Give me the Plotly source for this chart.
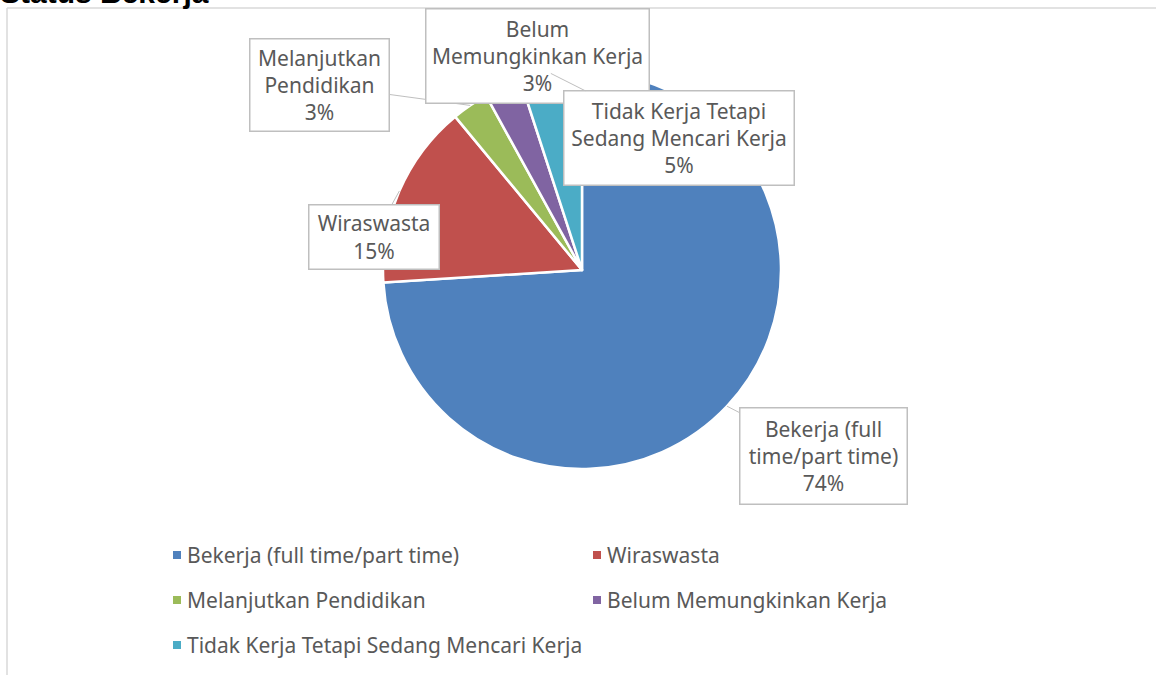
import math
import plotly.graph_objects as go

# data
labels = [
    "Bekerja (full time/part time)",
    "Wiraswasta",
    "Melanjutkan Pendidikan",
    "Belum Memungkinkan Kerja",
    "Tidak Kerja Tetapi Sedang Mencari Kerja",
]
values = [74, 15, 3, 3, 5]
colors = ["#4F81BD", "#C0504D", "#9BBB59", "#8064A2", "#4BACC6"]
# wrapped text for the callout boxes
callout_text = [
    "Bekerja (full<br>time/part time)",
    "Wiraswasta",
    "Melanjutkan<br>Pendidikan",
    "Belum<br>Memungkinkan Kerja",
    "Tidak Kerja Tetapi<br>Sedang Mencari Kerja",
]

W, H = 1156, 675
FONT = "Noto Sans"
TXT = "#595959"
BOX_LINE = "#bfbfbf"

# pie placement in pixels
cx, cy, r = 582, 270, 199

def px(x):
    return x / W

def py(y):
    return 1 - y / H

# callout box rectangles (left, top, right, bottom) in pixels
boxes = [
    (739, 407, 908, 505),
    (308, 204, 440, 270),
    (249, 38, 390, 132),
    (425, 8, 650, 104),
    (563, 90, 795, 186),
]

fig = go.Figure()
fig.add_trace(go.Pie(
    labels=labels,
    values=values,
    sort=False,
    direction="clockwise",
    rotation=0,
    marker=dict(colors=colors, line=dict(color="white", width=2.5)),
    textinfo="none",
    hoverinfo="label+percent",
    showlegend=False,
    domain=dict(x=[px(cx - r), px(cx + r)], y=[py(cy + r), py(cy - r)]),
))

annotations = []
total = sum(values)
cum = 0
for lab, val, txt, box in zip(labels, values, callout_text, boxes):
    mid = (cum + val / 2) / total * 2 * math.pi
    cum += val
    hx = cx + r * math.sin(mid)
    hy = cy - r * math.cos(mid)
    l, t, rr, b = box
    inside = l <= hx <= rr and t <= hy <= b
    pct = f"{round(val / total * 100)}%"
    annotations.append(dict(
        x=px(hx), y=py(hy), xref="paper", yref="paper",
        ax=(l + rr) / 2 - hx, ay=(t + b) / 2 - hy,
        text=f"{txt}<br>{pct}",
        showarrow=True, arrowhead=0, arrowwidth=1,
        arrowcolor="rgba(0,0,0,0)" if inside else BOX_LINE,
        standoff=0, startstandoff=0,
        bgcolor="white", bordercolor=BOX_LINE, borderwidth=1.5, borderpad=0,
        width=rr - l - 3, height=b - t - 3,
        align="center", valign="middle",
        font=dict(family=FONT, size=21, color=TXT),
    ))

# legend built from the same arrays, two columns
leg_x = [173, 593]
leg_y0, leg_dy = 555, 45
shapes = []
for i, (lab, col) in enumerate(zip(labels, colors)):
    x0 = leg_x[i % 2]
    y0 = leg_y0 + leg_dy * (i // 2)
    shapes.append(dict(type="rect", xref="paper", yref="paper",
                       x0=px(x0), x1=px(x0 + 8), y0=py(y0 + 4), y1=py(y0 - 4),
                       fillcolor=col, line=dict(width=0)))
    annotations.append(dict(x=px(x0 + 12), y=py(y0), xref="paper", yref="paper",
                            text=lab, showarrow=False, xanchor="left", yanchor="middle",
                            font=dict(family=FONT, size=21, color=TXT)))

# chart area border (top and left visible)
shapes.append(dict(type="line", xref="paper", yref="paper",
                   x0=px(7), x1=1, y0=py(8), y1=py(8),
                   line=dict(color="#d9d9d9", width=1.5)))
shapes.append(dict(type="line", xref="paper", yref="paper",
                   x0=px(7), x1=px(7), y0=py(8), y1=0,
                   line=dict(color="#d9d9d9", width=1.5)))

# title, cut off at the top like the reference
annotations.append(dict(x=px(-2), y=py(11), xref="paper", yref="paper",
                        text="<b>Status Bekerja</b>", showarrow=False,
                        xanchor="left", yanchor="bottom",
                        font=dict(family="Liberation Sans", size=30, color="black")))

fig.update_layout(
    width=W, height=H,
    margin=dict(l=0, r=0, t=0, b=0),
    paper_bgcolor="white",
    plot_bgcolor="white",
    annotations=annotations,
    shapes=shapes,
)
fig.write_html("out.html", config={"displayModeBar": False},
               post_script="document.body.style.margin='0';")
